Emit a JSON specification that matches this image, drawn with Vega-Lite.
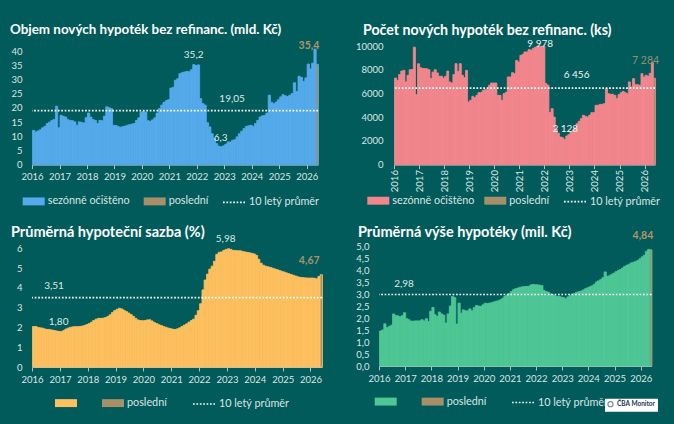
{
"$schema": "https://vega.github.io/schema/vega-lite/v6.json",
"background": "#015b5b",
"padding": {"left": 10, "top": 23, "right": 20, "bottom": 12},
"datasets": {
"m": [
{"d":"2016-01-01","a":12.1,"b":7300,"c":2.05,"e":1.46,"k":"s"},
{"d":"2016-02-01","a":11.5,"b":7100,"c":2.05,"e":1.5,"k":"s"},
{"d":"2016-03-01","a":11.9,"b":7590,"c":2.0,"e":1.76,"k":"s"},
{"d":"2016-04-01","a":12.3,"b":7890,"c":1.98,"e":1.6,"k":"s"},
{"d":"2016-05-01","a":13.0,"b":7950,"c":1.96,"e":1.65,"k":"s"},
{"d":"2016-06-01","a":13.5,"b":6970,"c":1.92,"e":1.7,"k":"s"},
{"d":"2016-07-01","a":14.5,"b":7530,"c":1.9,"e":2.17,"k":"s"},
{"d":"2016-08-01","a":15.0,"b":8000,"c":1.89,"e":2.1,"k":"s"},
{"d":"2016-09-01","a":15.6,"b":8020,"c":1.87,"e":2.09,"k":"s"},
{"d":"2016-10-01","a":15.9,"b":9900,"c":1.84,"e":2.05,"k":"s"},
{"d":"2016-11-01","a":20.6,"b":5900,"c":1.82,"e":2.1,"k":"s"},
{"d":"2016-12-01","a":13.0,"b":8500,"c":1.80,"e":2.22,"k":"s"},
{"d":"2017-01-01","a":17.4,"b":8170,"c":1.79,"e":1.97,"k":"s"},
{"d":"2017-02-01","a":17.0,"b":8100,"c":1.85,"e":1.93,"k":"s"},
{"d":"2017-03-01","a":16.8,"b":8100,"c":1.92,"e":1.87,"k":"s"},
{"d":"2017-04-01","a":15.9,"b":8080,"c":1.97,"e":1.87,"k":"s"},
{"d":"2017-05-01","a":15.6,"b":8000,"c":2.01,"e":1.88,"k":"s"},
{"d":"2017-06-01","a":15.5,"b":7250,"c":2.03,"e":1.88,"k":"s"},
{"d":"2017-07-01","a":15.1,"b":7800,"c":2.04,"e":1.88,"k":"s"},
{"d":"2017-08-01","a":13.9,"b":8000,"c":2.04,"e":1.93,"k":"s"},
{"d":"2017-09-01","a":15.1,"b":7730,"c":2.05,"e":1.88,"k":"s"},
{"d":"2017-10-01","a":14.9,"b":7450,"c":2.07,"e":1.97,"k":"s"},
{"d":"2017-11-01","a":14.7,"b":7450,"c":2.1,"e":1.86,"k":"s"},
{"d":"2017-12-01","a":16.6,"b":7300,"c":2.15,"e":2.28,"k":"s"},
{"d":"2018-01-01","a":18.2,"b":7450,"c":2.2,"e":2.44,"k":"s"},
{"d":"2018-02-01","a":16.8,"b":7890,"c":2.27,"e":2.14,"k":"s"},
{"d":"2018-03-01","a":15.9,"b":6970,"c":2.35,"e":2.07,"k":"s"},
{"d":"2018-04-01","a":15.6,"b":6880,"c":2.42,"e":2.25,"k":"s"},
{"d":"2018-05-01","a":14.5,"b":7590,"c":2.46,"e":2.17,"k":"s"},
{"d":"2018-06-01","a":15.6,"b":8510,"c":2.46,"e":2.12,"k":"s"},
{"d":"2018-07-01","a":15.5,"b":7860,"c":2.47,"e":1.79,"k":"s"},
{"d":"2018-08-01","a":17.1,"b":8510,"c":2.5,"e":2.17,"k":"s"},
{"d":"2018-09-01","a":20.4,"b":7530,"c":2.55,"e":2.5,"k":"s"},
{"d":"2018-10-01","a":20.1,"b":7330,"c":2.64,"e":2.9,"k":"s"},
{"d":"2018-11-01","a":19.8,"b":7950,"c":2.76,"e":2.85,"k":"s"},
{"d":"2018-12-01","a":13.9,"b":5280,"c":2.85,"e":1.75,"k":"s"},
{"d":"2019-01-01","a":13.8,"b":5420,"c":2.92,"e":2.62,"k":"s"},
{"d":"2019-02-01","a":13.4,"b":5760,"c":2.97,"e":2.2,"k":"s"},
{"d":"2019-03-01","a":13.2,"b":5650,"c":2.94,"e":2.34,"k":"s"},
{"d":"2019-04-01","a":13.4,"b":5840,"c":2.87,"e":2.3,"k":"s"},
{"d":"2019-05-01","a":13.6,"b":6070,"c":2.8,"e":2.3,"k":"s"},
{"d":"2019-06-01","a":13.9,"b":6070,"c":2.73,"e":2.38,"k":"s"},
{"d":"2019-07-01","a":14.1,"b":6260,"c":2.65,"e":2.3,"k":"s"},
{"d":"2019-08-01","a":14.3,"b":6320,"c":2.56,"e":2.44,"k":"s"},
{"d":"2019-09-01","a":14.5,"b":6320,"c":2.46,"e":2.52,"k":"s"},
{"d":"2019-10-01","a":15.6,"b":6690,"c":2.38,"e":2.5,"k":"s"},
{"d":"2019-11-01","a":16.5,"b":6880,"c":2.35,"e":2.48,"k":"s"},
{"d":"2019-12-01","a":18.5,"b":6880,"c":2.34,"e":2.55,"k":"s"},
{"d":"2020-01-01","a":18.7,"b":6880,"c":2.35,"e":2.62,"k":"s"},
{"d":"2020-02-01","a":18.5,"b":5840,"c":2.38,"e":2.6,"k":"s"},
{"d":"2020-03-01","a":15.5,"b":5840,"c":2.39,"e":2.62,"k":"s"},
{"d":"2020-04-01","a":15.3,"b":5420,"c":2.33,"e":2.64,"k":"s"},
{"d":"2020-05-01","a":15.8,"b":5980,"c":2.25,"e":2.67,"k":"s"},
{"d":"2020-06-01","a":16.5,"b":6100,"c":2.2,"e":2.7,"k":"s"},
{"d":"2020-07-01","a":18.2,"b":7390,"c":2.14,"e":2.72,"k":"s"},
{"d":"2020-08-01","a":19.8,"b":7390,"c":2.1,"e":2.76,"k":"s"},
{"d":"2020-09-01","a":21.0,"b":7750,"c":2.05,"e":2.82,"k":"s"},
{"d":"2020-10-01","a":22.0,"b":7670,"c":2.01,"e":2.9,"k":"s"},
{"d":"2020-11-01","a":22.6,"b":8790,"c":1.97,"e":2.96,"k":"s"},
{"d":"2020-12-01","a":22.9,"b":8650,"c":1.94,"e":3.02,"k":"s"},
{"d":"2021-01-01","a":27.0,"b":9210,"c":1.91,"e":3.1,"k":"s"},
{"d":"2021-02-01","a":27.3,"b":9300,"c":1.9,"e":3.18,"k":"s"},
{"d":"2021-03-01","a":29.8,"b":9500,"c":1.93,"e":3.22,"k":"s"},
{"d":"2021-04-01","a":30.3,"b":9500,"c":1.98,"e":3.25,"k":"s"},
{"d":"2021-05-01","a":32.1,"b":9700,"c":2.05,"e":3.28,"k":"s"},
{"d":"2021-06-01","a":32.5,"b":9650,"c":2.12,"e":3.3,"k":"s"},
{"d":"2021-07-01","a":32.7,"b":9800,"c":2.18,"e":3.31,"k":"s"},
{"d":"2021-08-01","a":32.9,"b":9900,"c":2.27,"e":3.32,"k":"s"},
{"d":"2021-09-01","a":32.8,"b":9978,"c":2.35,"e":3.32,"k":"s"},
{"d":"2021-10-01","a":33.5,"b":9978,"c":2.42,"e":3.38,"k":"s"},
{"d":"2021-11-01","a":35.3,"b":9978,"c":2.62,"e":3.4,"k":"s"},
{"d":"2021-12-01","a":35.0,"b":9978,"c":2.85,"e":3.39,"k":"s"},
{"d":"2022-01-01","a":35.2,"b":6830,"c":3.2,"e":3.38,"k":"s"},
{"d":"2022-02-01","a":23.3,"b":6690,"c":3.9,"e":3.37,"k":"s"},
{"d":"2022-03-01","a":21.5,"b":4400,"c":4.4,"e":3.35,"k":"s"},
{"d":"2022-04-01","a":21.0,"b":4720,"c":4.7,"e":3.15,"k":"s"},
{"d":"2022-05-01","a":14.8,"b":4000,"c":4.95,"e":3.1,"k":"s"},
{"d":"2022-06-01","a":13.3,"b":3000,"c":5.1,"e":3.08,"k":"s"},
{"d":"2022-07-01","a":10.9,"b":2650,"c":5.35,"e":3.0,"k":"s"},
{"d":"2022-08-01","a":9.2,"b":2330,"c":5.7,"e":2.97,"k":"s"},
{"d":"2022-09-01","a":7.4,"b":2270,"c":5.8,"e":2.93,"k":"s"},
{"d":"2022-10-01","a":6.5,"b":2128,"c":5.82,"e":2.9,"k":"s"},
{"d":"2022-11-01","a":6.3,"b":2410,"c":5.9,"e":2.9,"k":"s"},
{"d":"2022-12-01","a":6.6,"b":2530,"c":5.95,"e":2.87,"k":"s"},
{"d":"2023-01-01","a":7.2,"b":2750,"c":5.98,"e":2.85,"k":"s"},
{"d":"2023-02-01","a":8.0,"b":2890,"c":5.95,"e":2.8,"k":"s"},
{"d":"2023-03-01","a":8.0,"b":3090,"c":5.9,"e":2.88,"k":"s"},
{"d":"2023-04-01","a":8.6,"b":3450,"c":5.89,"e":2.93,"k":"s"},
{"d":"2023-05-01","a":8.8,"b":3650,"c":5.88,"e":3.0,"k":"s"},
{"d":"2023-06-01","a":9.8,"b":3875,"c":5.88,"e":3.02,"k":"s"},
{"d":"2023-07-01","a":10.9,"b":4160,"c":5.85,"e":3.07,"k":"s"},
{"d":"2023-08-01","a":11.8,"b":4070,"c":5.82,"e":3.1,"k":"s"},
{"d":"2023-09-01","a":12.7,"b":4015,"c":5.8,"e":3.12,"k":"s"},
{"d":"2023-10-01","a":13.5,"b":4160,"c":5.78,"e":3.17,"k":"s"},
{"d":"2023-11-01","a":13.7,"b":4380,"c":5.75,"e":3.22,"k":"s"},
{"d":"2023-12-01","a":13.9,"b":4380,"c":5.72,"e":3.26,"k":"s"},
{"d":"2024-01-01","a":13.5,"b":5000,"c":5.65,"e":3.3,"k":"s"},
{"d":"2024-02-01","a":14.5,"b":5000,"c":5.45,"e":3.34,"k":"s"},
{"d":"2024-03-01","a":15.6,"b":5080,"c":5.25,"e":3.4,"k":"s"},
{"d":"2024-04-01","a":16.8,"b":5080,"c":5.15,"e":3.5,"k":"s"},
{"d":"2024-05-01","a":17.2,"b":5140,"c":5.1,"e":3.55,"k":"s"},
{"d":"2024-06-01","a":17.4,"b":6400,"c":5.07,"e":3.6,"k":"s"},
{"d":"2024-07-01","a":18.2,"b":5980,"c":5.04,"e":3.68,"k":"s"},
{"d":"2024-08-01","a":24.5,"b":5930,"c":5.0,"e":3.92,"k":"s"},
{"d":"2024-09-01","a":22.0,"b":5930,"c":4.96,"e":3.74,"k":"s"},
{"d":"2024-10-01","a":21.5,"b":5840,"c":4.92,"e":3.76,"k":"s"},
{"d":"2024-11-01","a":22.1,"b":5560,"c":4.88,"e":3.82,"k":"s"},
{"d":"2024-12-01","a":22.9,"b":5900,"c":4.84,"e":3.87,"k":"s"},
{"d":"2025-01-01","a":23.9,"b":6070,"c":4.8,"e":3.93,"k":"s"},
{"d":"2025-02-01","a":24.7,"b":6180,"c":4.76,"e":3.98,"k":"s"},
{"d":"2025-03-01","a":24.3,"b":6070,"c":4.72,"e":4.02,"k":"s"},
{"d":"2025-04-01","a":24.0,"b":5980,"c":4.68,"e":4.08,"k":"s"},
{"d":"2025-05-01","a":24.5,"b":6970,"c":4.64,"e":4.15,"k":"s"},
{"d":"2025-06-01","a":25.1,"b":6550,"c":4.6,"e":4.2,"k":"s"},
{"d":"2025-07-01","a":28.9,"b":7250,"c":4.56,"e":4.24,"k":"s"},
{"d":"2025-08-01","a":25.8,"b":6740,"c":4.53,"e":4.3,"k":"s"},
{"d":"2025-09-01","a":31.2,"b":6740,"c":4.52,"e":4.32,"k":"s"},
{"d":"2025-10-01","a":30.8,"b":6690,"c":4.51,"e":4.36,"k":"s"},
{"d":"2025-11-01","a":29.4,"b":7670,"c":4.5,"e":4.4,"k":"s"},
{"d":"2025-12-01","a":30.6,"b":7390,"c":4.5,"e":4.47,"k":"s"},
{"d":"2026-01-01","a":35.5,"b":7530,"c":4.5,"e":4.55,"k":"s"},
{"d":"2026-02-01","a":33.8,"b":7450,"c":4.49,"e":4.62,"k":"s"},
{"d":"2026-03-01","a":35.8,"b":7700,"c":4.46,"e":4.78,"k":"s"},
{"d":"2026-04-01","a":40.8,"b":8600,"c":4.58,"e":4.86,"k":"s"},
{"d":"2026-05-01","a":35.4,"b":7284,"c":4.67,"e":4.84,"k":"p"}
],
"avg": [{"k":"m","a":19.05,"b":6456,"c":3.51,"e":2.98,"src":"ČBA Monitor"}],
"lab": [
{"p":1,"d":"2021-11-20","y":38.6,"t":"35,2","kind":"n"},
{"p":1,"d":"2023-04-15","y":23.2,"t":"19,05","kind":"n"},
{"p":1,"d":"2022-11-15","y":9.5,"t":"6,3","kind":"n"},
{"p":1,"d":"2026-02-01","y":41.8,"t":"35,4","kind":"p"},
{"p":2,"d":"2021-11-01","y":10200,"t":"9 978","kind":"n"},
{"p":2,"d":"2023-04-15","y":7530,"t":"6 456","kind":"n"},
{"p":2,"d":"2022-11-01","y":2977,"t":"2 128","kind":"n"},
{"p":2,"d":"2026-01-15","y":8735,"t":"7 284","kind":"p"},
{"p":3,"d":"2016-10-15","y":4.11,"t":"3,51","kind":"n"},
{"p":3,"d":"2016-12-15","y":2.26,"t":"1,80","kind":"n"},
{"p":3,"d":"2022-12-15","y":6.47,"t":"5,98","kind":"n"},
{"p":3,"d":"2025-12-15","y":5.38,"t":"4,67","kind":"p"},
{"p":4,"d":"2016-12-15","y":3.42,"t":"2,98","kind":"n"},
{"p":4,"d":"2026-02-01","y":5.43,"t":"4,84","kind":"p"}
]
},
"columns": 2,
"align": "none",
"bounds": "full",
"spacing": {"column": 32, "row": 16},
"resolve": {"scale": {"color": "independent", "strokeDash": "independent", "shape": "independent", "x": "independent", "y": "independent"}, "legend": {"color": "independent", "strokeDash": "independent", "shape": "independent"}},
"concat": [
{
"width": 286, "height": 118.6,
"title": {"text": "Objem nových hypoték bez refinanc. (mld. Kč)", "frame": "group", "dx": -22, "offset": 4.3, "fontSize": 13.4},
"layer": [
{"data": {"name": "m"}, "mark": {"type": "bar", "stroke": "#55aaeb", "strokeWidth": 0.8, "binSpacing": 0},
 "encoding": {
  "x": {"field": "d", "type": "temporal", "timeUnit": "utcyearmonth", "title": null,
        "scale": {"domain": [{"year": 2016, "month": 1, "date": 1, "utc": true}, {"year": 2026, "month": 6, "date": 1, "utc": true}], "nice": false},
        "axis": {"values": [1451606400000,1483228800000,1514764800000,1546300800000,1577836800000,1609459200000,1640995200000,1672531200000,1704067200000,1735689600000,1767225600000], "tickCount": 40, "format": "%Y", "labelAngle": 0, "labelOverlap": false}},
  "y": {"field": "a", "type": "quantitative", "title": null, "scale": {"domain": [0, 41.87], "nice": false}, "axis": {"values": [0,5,10,15,20,25,30,35,40], "tickCount": 40, "format": "d", "labelOverlap": false}},
  "color": {"field": "k", "type": "nominal", "scale": {"domain": ["s","p"], "range": ["#55aaeb","#a78f68"]},
   "legend": {"orient": "none", "legendX": -9.3, "legendY": 144.3, "direction": "horizontal", "title": null, "columnPadding": 13,
     "labelExpr": "datum.value === 's' ? 'sezónně očištěno' : 'poslední'"}}
 }},
{"data": {"name": "avg"}, "mark": {"type": "rule", "color": "#ffffff", "strokeWidth": 1.7},
 "encoding": {"y": {"field": "a", "type": "quantitative", "title": null},
  "strokeDash": {"field": "k", "type": "nominal", "scale": {"domain": ["m"], "range": [[1.7,1.7]]},
   "legend": {"orient": "none", "legendX": 190, "legendY": 144.3, "title": null, "symbolType": "stroke", "symbolStrokeColor": "#ffffff", "symbolStrokeWidth": 1.7, "symbolDash": [1.7,1.7], "labelExpr": "'10 letý průměr'"}}}},
{"data": {"name": "lab"}, "transform": [{"filter": "datum.p == 1 && datum.kind == 'n'"}], "mark": {"type": "text", "fontSize": 10, "fill": "#dfe8e6"},
 "encoding": {"x": {"field": "d", "type": "temporal", "timeUnit": "utcyearmonthdate", "title": null}, "y": {"field": "y", "type": "quantitative", "title": null}, "text": {"field": "t"}}},
{"data": {"name": "lab"}, "transform": [{"filter": "datum.p == 1 && datum.kind == 'p'"}], "mark": {"type": "text", "fontSize": 10.5, "fontWeight": "bold", "fill": "#b0956a"},
 "encoding": {"x": {"field": "d", "type": "temporal", "timeUnit": "utcyearmonthdate", "title": null}, "y": {"field": "y", "type": "quantitative", "title": null}, "text": {"field": "t"}}}
]
},
{
"width": 261, "height": 118.6,
"title": {"text": "Počet nových hypoték bez refinanc. (ks)", "frame": "group", "dx": -31, "offset": 0.8, "fontSize": 14.2},
"layer": [
{"data": {"name": "m"}, "mark": {"type": "bar", "stroke": "#f3868d", "strokeWidth": 0.8, "binSpacing": 0},
 "encoding": {
  "x": {"field": "d", "type": "temporal", "timeUnit": "utcyearmonth", "title": null,
        "scale": {"domain": [{"year": 2016, "month": 1, "date": 1, "utc": true}, {"year": 2026, "month": 6, "date": 1, "utc": true}], "nice": false},
        "axis": {"values": [1451606400000,1483228800000,1514764800000,1546300800000,1577836800000,1609459200000,1640995200000,1672531200000,1704067200000,1735689600000,1767225600000], "tickCount": 40, "format": "%Y", "labelAngle": 270, "labelPadding": 1, "labelOverlap": false}},
  "y": {"field": "b", "type": "quantitative", "title": null, "scale": {"domain": [0, 10000], "nice": false}, "axis": {"values": [0,2000,4000,6000,8000,10000], "tickCount": 40, "format": "d", "labelPadding": 11, "labelOverlap": false}},
  "color": {"field": "k", "type": "nominal", "scale": {"domain": ["s","p"], "range": ["#f3868d","#a78f68"]},
   "legend": {"orient": "none", "legendX": -26.7, "legendY": 143.6, "direction": "horizontal", "title": null, "columnPadding": 9,
     "labelExpr": "datum.value === 's' ? 'sezónně očištěno' : 'poslední'"}}
 }},
{"data": {"name": "avg"}, "mark": {"type": "rule", "color": "#ffffff", "strokeWidth": 1.7},
 "encoding": {"y": {"field": "b", "type": "quantitative", "title": null},
  "strokeDash": {"field": "k", "type": "nominal", "scale": {"domain": ["m"], "range": [[1.7,1.7]]},
   "legend": {"orient": "none", "legendX": 169, "legendY": 143.6, "title": null, "symbolType": "stroke", "symbolStrokeColor": "#ffffff", "symbolStrokeWidth": 1.7, "symbolDash": [1.7,1.7], "labelExpr": "'10 letý průměr'"}}}},
{"data": {"name": "lab"}, "transform": [{"filter": "datum.p == 2 && datum.kind == 'n'"}], "mark": {"type": "text", "fontSize": 10, "fill": "#eef3f2"},
 "encoding": {"x": {"field": "d", "type": "temporal", "timeUnit": "utcyearmonthdate", "title": null}, "y": {"field": "y", "type": "quantitative", "title": null}, "text": {"field": "t"}}},
{"data": {"name": "lab"}, "transform": [{"filter": "datum.p == 2 && datum.kind == 'p'"}], "mark": {"type": "text", "fontSize": 10.5, "fill": "#958f6e"},
 "encoding": {"x": {"field": "d", "type": "temporal", "timeUnit": "utcyearmonthdate", "title": null}, "y": {"field": "y", "type": "quantitative", "title": null}, "text": {"field": "t"}}}
]
},
{
"width": 290, "height": 120,
"title": {"text": "Průměrná hypoteční sazba (%)", "frame": "group", "dx": -21, "offset": -6, "fontSize": 14.5},
"layer": [
{"data": {"name": "m"}, "mark": {"type": "bar", "stroke": "#fec05f", "strokeWidth": 0.8, "binSpacing": 0},
 "encoding": {
  "x": {"field": "d", "type": "temporal", "timeUnit": "utcyearmonth", "title": null,
        "scale": {"domain": [{"year": 2016, "month": 1, "date": 1, "utc": true}, {"year": 2026, "month": 6, "date": 1, "utc": true}], "nice": false},
        "axis": {"values": [1451606400000,1483228800000,1514764800000,1546300800000,1577836800000,1609459200000,1640995200000,1672531200000,1704067200000,1735689600000,1767225600000], "tickCount": 40, "format": "%Y", "labelAngle": 0, "labelOverlap": false}},
  "y": {"field": "c", "type": "quantitative", "title": null, "scale": {"domain": [0, 6.07], "nice": false}, "axis": {"values": [0,1,2,3,4,5,6], "tickCount": 40, "format": "d", "labelOverlap": false}},
  "color": {"field": "k", "type": "nominal", "scale": {"domain": ["s","p"], "range": ["#fec05f","#a78f68"]},
   "legend": {"orient": "none", "legendX": 23, "legendY": 145, "direction": "horizontal", "title": null, "columnPadding": 22,
     "labelExpr": "datum.value === 's' ? '' : 'poslední'"}}
 }},
{"data": {"name": "avg"}, "mark": {"type": "rule", "color": "#ffffff", "strokeWidth": 1.7},
 "encoding": {"y": {"field": "c", "type": "quantitative", "title": null},
  "strokeDash": {"field": "k", "type": "nominal", "scale": {"domain": ["m"], "range": [[1.7,1.7]]},
   "legend": {"orient": "none", "legendX": 160, "legendY": 145, "title": null, "symbolType": "stroke", "symbolStrokeColor": "#ffffff", "symbolStrokeWidth": 1.7, "symbolDash": [1.7,1.7], "labelExpr": "'10 letý průměr'"}}}},
{"data": {"name": "lab"}, "transform": [{"filter": "datum.p == 3 && datum.kind == 'n'"}], "mark": {"type": "text", "fontSize": 10, "fill": "#dfe8e6"},
 "encoding": {"x": {"field": "d", "type": "temporal", "timeUnit": "utcyearmonthdate", "title": null}, "y": {"field": "y", "type": "quantitative", "title": null}, "text": {"field": "t"}}},
{"data": {"name": "lab"}, "transform": [{"filter": "datum.p == 3 && datum.kind == 'p'"}], "mark": {"type": "text", "fontSize": 10.5, "fontWeight": "bold", "fill": "#a8916b"},
 "encoding": {"x": {"field": "d", "type": "temporal", "timeUnit": "utcyearmonthdate", "title": null}, "y": {"field": "y", "type": "quantitative", "title": null}, "text": {"field": "t"}}}
]
},
{
"width": 272.5, "height": 120,
"title": {"text": "Průměrná výše hypotéky (mil. Kč)", "frame": "group", "dx": -21, "offset": -9.5, "fontSize": 14.5},
"layer": [
{"data": {"name": "m"}, "mark": {"type": "bar", "stroke": "#4fc795", "strokeWidth": 0.8, "binSpacing": 0},
 "encoding": {
  "x": {"field": "d", "type": "temporal", "timeUnit": "utcyearmonth", "title": null,
        "scale": {"domain": [{"year": 2016, "month": 1, "date": 1, "utc": true}, {"year": 2026, "month": 6, "date": 1, "utc": true}], "nice": false},
        "axis": {"values": [1451606400000,1483228800000,1514764800000,1546300800000,1577836800000,1609459200000,1640995200000,1672531200000,1704067200000,1735689600000,1767225600000], "tickCount": 40, "format": "%Y", "labelAngle": 0, "labelOverlap": false}},
  "y": {"field": "e", "type": "quantitative", "title": null, "scale": {"domain": [0, 5], "nice": false}, "axis": {"values": [0,0.5,1,1.5,2,2.5,3,3.5,4,4.5,5], "tickCount": 40, "labelOverlap": false, "labelExpr": "replace(format(datum.value, '.1f'), '.', ',')"}},
  "color": {"field": "k", "type": "nominal", "scale": {"domain": ["s","p"], "range": ["#4fc795","#a78f68"]},
   "legend": {"orient": "none", "legendX": -4.3, "legendY": 144.5, "direction": "horizontal", "title": null, "columnPadding": 22,
     "labelExpr": "datum.value === 's' ? '' : 'poslední'"}}
 }},
{"data": {"name": "avg"}, "mark": {"type": "rule", "color": "#ffffff", "strokeWidth": 1.7},
 "encoding": {"y": {"field": "e", "type": "quantitative", "title": null},
  "strokeDash": {"field": "k", "type": "nominal", "scale": {"domain": ["m"], "range": [[1.7,1.7]]},
   "legend": {"orient": "none", "legendX": 132, "legendY": 144.5, "title": null, "symbolType": "stroke", "symbolStrokeColor": "#ffffff", "symbolStrokeWidth": 1.7, "symbolDash": [1.7,1.7], "labelExpr": "'10 letý průměr'"}}}},
{"data": {"name": "avg"}, "mark": {"type": "point", "opacity": 0},
 "encoding": {"y": {"field": "e", "type": "quantitative", "title": null},
  "shape": {"field": "src", "type": "nominal", "scale": {"range": ["circle"]},
   "legend": {"orient": "none", "legendX": 226, "legendY": 152.7, "title": null, "fillColor": "#ffffff", "padding": 2, "symbolSize": 26, "symbolType": "circle", "symbolOpacity": 1, "symbolFillColor": "#ffffff", "symbolStrokeColor": "#7f8d99", "symbolStrokeWidth": 1.2, "labelColor": "#1f3550", "labelFontSize": 6.5, "labelFontWeight": "bold", "labelOffset": 3}}}},
{"data": {"name": "lab"}, "transform": [{"filter": "datum.p == 4 && datum.kind == 'n'"}], "mark": {"type": "text", "fontSize": 10, "fill": "#dfe8e6"},
 "encoding": {"x": {"field": "d", "type": "temporal", "timeUnit": "utcyearmonthdate", "title": null}, "y": {"field": "y", "type": "quantitative", "title": null}, "text": {"field": "t"}}},
{"data": {"name": "lab"}, "transform": [{"filter": "datum.p == 4 && datum.kind == 'p'"}], "mark": {"type": "text", "fontSize": 10.5, "fontWeight": "bold", "fill": "#b0956a"},
 "encoding": {"x": {"field": "d", "type": "temporal", "timeUnit": "utcyearmonthdate", "title": null}, "y": {"field": "y", "type": "quantitative", "title": null}, "text": {"field": "t"}}}
]
}
],
"config": {
 "font": "Lato",
 "view": {"stroke": null},
 "axis": {"labelColor": "#dbe5e3", "labelFontSize": 9.5, "grid": false},
 "axisX": {"domainColor": "#b3c1be", "tickColor": "#b3c1be", "tickSize": 4, "labelPadding": 3, "labelFlush": false, "labelOverlap": false},
 "axisY": {"domain": false, "ticks": false, "labelPadding": 10},
 "legend": {"padding": 0, "labelColor": "#dbe5e3", "labelFontSize": 10.8, "symbolSize": 484, "labelOffset": 3, "symbolType": "M-1,-0.36H1V0.36H-1Z", "symbolStrokeWidth": 0},
 "title": {"fontSize": 13, "fontWeight": "bold", "color": "#ffffff", "anchor": "start"}
}
}
